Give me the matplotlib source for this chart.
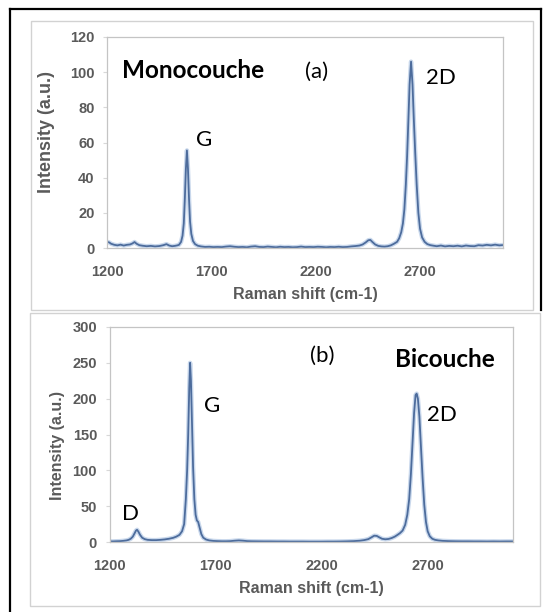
import matplotlib
matplotlib.use("Agg")
import matplotlib.pyplot as plt
from matplotlib.patches import Rectangle
from matplotlib.lines import Line2D

# ---------------- data ----------------
mono_shift = [1200, 1210, 1220, 1235, 1250, 1265, 1280, 1295, 1310, 1322, 1332, 1342, 1355, 1370,
              1390, 1410, 1430, 1450, 1470, 1485, 1498, 1512, 1525, 1537, 1545, 1555, 1562, 1568,
              1573, 1578, 1583, 1588, 1593, 1598, 1604, 1612, 1622, 1635, 1650, 1670, 1690, 1710,
              1730, 1750, 1770, 1790, 1810, 1830, 1850, 1870, 1890, 1910, 1930, 1950, 1970, 1990,
              2010, 2030, 2050, 2070, 2090, 2110, 2130, 2150, 2170, 2190, 2210, 2230, 2250, 2270,
              2290, 2310, 2330, 2350, 2370, 2390, 2410, 2425, 2440, 2452, 2462, 2472, 2485, 2500,
              2515, 2530, 2545, 2560, 2575, 2590, 2600, 2610, 2618, 2625, 2632, 2638, 2644, 2650,
              2657, 2664, 2670, 2677, 2684, 2692, 2700, 2710, 2722, 2735, 2750, 2765, 2780, 2800,
              2820, 2840, 2860, 2880, 2900, 2920, 2940, 2960, 2980, 3000, 3020, 3040, 3060, 3080,
              3100]
mono_int = [3.5, 3.2, 2.4, 1.8, 1.5, 1.9, 1.4, 1.8, 2.0, 2.6, 3.4, 2.4, 1.6, 1.3,
            1.0, 1.2, 0.9, 1.1, 1.6, 2.2, 1.4, 1.0, 1.2, 1.5, 1.8, 3.5, 7.0, 14.0,
            28.0, 45.0, 55.5, 45.0, 28.0, 15.0, 8.0, 4.0, 2.2, 1.3, 0.9, 0.6, 0.7, 0.5,
            0.6, 0.5, 0.8, 1.0, 0.7, 0.5, 0.6, 0.4, 0.8, 1.0, 0.6, 0.5, 0.8, 0.6,
            0.4, 0.7, 0.5, 0.6, 0.4, 0.5, 0.8, 0.5, 0.6, 0.5, 0.7, 0.6, 0.4, 0.6,
            0.5, 0.7, 0.5, 0.6, 0.9, 1.1, 1.4, 2.0, 3.2, 4.4, 4.6, 3.4, 2.0, 1.2,
            0.9, 0.8, 1.0, 1.5, 2.4, 3.5, 5.5, 9.0, 14.0, 22.0, 36.0, 52.0, 72.0, 93.0,
            106.0, 93.0, 74.0, 54.0, 36.0, 20.0, 11.0, 6.0, 3.5, 2.2, 1.6, 1.3, 1.0, 1.4,
            0.9, 1.2, 1.0, 1.3, 0.9, 1.4, 1.1, 1.0, 1.6, 1.4, 1.8, 1.5, 1.9, 1.5,
            1.7]

bi_shift = [1200, 1215, 1230, 1250, 1265, 1280, 1290, 1300, 1310, 1318, 1325, 1330, 1336, 1344,
            1354, 1366, 1380, 1400, 1420, 1440, 1460, 1480, 1500, 1515, 1530, 1542, 1552, 1560,
            1566, 1571, 1576, 1580, 1584, 1589, 1594, 1600, 1606, 1612, 1618, 1625, 1633, 1642,
            1655, 1670, 1690, 1710, 1730, 1750, 1770, 1790, 1810, 1830, 1850, 1870, 1900, 1930,
            1960, 1990, 2020, 2050, 2080, 2110, 2140, 2170, 2200, 2230, 2260, 2290, 2320, 2350,
            2380, 2400, 2420, 2435, 2448, 2460, 2472, 2485, 2500, 2515, 2530, 2545, 2558, 2570,
            2582, 2594, 2604, 2613, 2621, 2629, 2636, 2643, 2648, 2654, 2661, 2668, 2676, 2684,
            2692, 2700, 2710, 2722, 2735, 2750, 2770, 2800, 2830, 2860, 2890, 2920, 2950, 2980,
            3010, 3040, 3070, 3100]
bi_int = [1.0, 0.8, 1.0, 1.2, 1.6, 2.2, 3.0, 4.5, 7.5, 12.0, 16.0, 17.0, 14.5, 10.0,
          6.0, 4.0, 3.0, 2.6, 2.6, 3.0, 3.6, 4.5, 5.8, 7.5, 10.0, 15.0, 25.0, 60.0,
          100.0, 150.0, 215.0, 250.0, 225.0, 165.0, 105.0, 60.0, 38.0, 30.0, 28.0, 20.0, 11.0, 6.0,
          3.5, 2.2, 1.5, 1.2, 1.0, 1.0, 1.2, 1.8, 2.2, 1.8, 1.2, 1.0, 0.9, 0.8,
          0.8, 0.7, 0.7, 0.6, 0.6, 0.6, 0.5, 0.5, 0.5, 0.6, 0.6, 0.7, 0.9, 1.2,
          1.8, 2.6, 4.0, 6.5, 8.8, 8.5, 6.5, 4.5, 3.8, 4.2, 5.5, 7.5, 10.0, 12.5,
          16.0, 24.0, 38.0, 60.0, 95.0, 140.0, 180.0, 205.0, 207.0, 200.0, 175.0, 135.0, 90.0, 52.0,
          28.0, 15.0, 8.0, 4.5, 3.0, 2.2, 1.6, 1.2, 1.0, 0.9, 0.9, 0.8, 0.8, 0.7,
          0.8, 0.7, 0.8, 0.8]

x_ticks = [1200, 1700, 2200, 2700]
y_ticks_mono = [0, 20, 40, 60, 80, 100, 120]
y_ticks_bi = [0, 50, 100, 150, 200, 250, 300]
x_label = "Raman shift (cm-1)"
y_label = "Intensity (a.u.)"

# ---------------- layout ----------------
W, H = 546, 612
fig = plt.figure(figsize=(W / 100, H / 100), dpi=100)
fig.patch.set_facecolor("white")


def px_rect(x0, y0, x1, y1):
    return [x0 / W, 1 - y1 / H, (x1 - x0) / W, (y1 - y0) / H]


def fx(x):
    return x / W


def fy(y):
    return 1 - y / H


# chart area boxes (behind axes)
for (x0, y0, x1, y1) in [(31, 21, 533, 310), (30, 313, 540, 606)]:
    r = px_rect(x0, y0, x1, y1)
    fig.add_artist(Rectangle((r[0], r[1]), r[2], r[3], transform=fig.transFigure,
                             facecolor="white", edgecolor="#d2d2d2", lw=1.0, zorder=-10))

# outer black frame
for (xa0, ya0, xa1, ya1) in [(10, 9, 541, 9), (10, 9, 10, 612), (541, 9, 541, 310)]:
    fig.add_artist(Line2D([fx(xa0), fx(xa1)], [fy(ya0), fy(ya1)], color="black", lw=1.6,
                          transform=fig.transFigure, zorder=-5))

tick_color = "#5a5a5a"
line_color = "#4d6c9c"
glow_color = "#c9d8ec"


def style_axis(ax, yticks, ylim):
    ax.set_xlim(1200, 3100)
    ax.set_ylim(*ylim)
    ax.set_xticks(x_ticks)
    ax.set_yticks(yticks)
    ax.set_facecolor("white")
    for s in ax.spines.values():
        s.set_color("#c4c4c4")
        s.set_linewidth(0.9)
    ax.tick_params(axis="x", length=0, pad=12, labelsize=10.5, labelcolor=tick_color)
    ax.tick_params(axis="y", length=3, color="#d8d8d8", pad=6, labelsize=10.5, labelcolor=tick_color)
    for lab in ax.get_xticklabels() + ax.get_yticklabels():
        lab.set_fontweight("bold")
        lab.set_family("Liberation Sans")
    ax.set_xlabel(x_label, fontsize=11.5, fontweight="bold", color=tick_color,
                  family="Liberation Sans", labelpad=6)


# panel (a)
ax1 = fig.add_axes(px_rect(107, 37, 503.5, 248))
ax1.plot(mono_shift, mono_int, color=glow_color, lw=3.2, solid_joinstyle="round")
ax1.plot(mono_shift, mono_int, color=line_color, lw=1.3, solid_joinstyle="round")
style_axis(ax1, y_ticks_mono, (0, 120))
ax1.set_ylabel(y_label, fontsize=13, fontweight="bold", color=tick_color, family="Liberation Sans")
ax1.yaxis.set_label_coords(-0.13, 0.55)

ann = dict(family="Lato", color="black", fontsize=16, ha="left", va="baseline")
bold_ann = dict(ann, fontsize=17.5, fontweight="bold")
ax1.text(1272, 96.8, "Monocouche", **bold_ann)
ax1.text(2150, 96.8, "(a)", **ann)
ax1.text(2730, 93.4, "2D", **ann)
ax1.text(1628, 57.9, "G", **ann)

# panel (b)
ax2 = fig.add_axes(px_rect(109.5, 327, 512.5, 542))
ax2.plot(bi_shift, bi_int, color=glow_color, lw=3.2, solid_joinstyle="round")
ax2.plot(bi_shift, bi_int, color=line_color, lw=1.3, solid_joinstyle="round")
style_axis(ax2, y_ticks_bi, (0, 300))
ax2.set_ylabel(y_label, fontsize=11.5, fontweight="bold", color=tick_color, family="Liberation Sans")
ax2.yaxis.set_label_coords(-0.11, 0.45)

ax2.text(2145, 251, "(b)", **ann)
ax2.text(2545, 244.6, "Bicouche", **bold_ann)
ax2.text(1645, 181.8, "G", **ann)
ax2.text(2695, 169, "2D", **ann)
ax2.text(1260, 30.7, "D", **ann)

fig.savefig("out.png", dpi=100)
